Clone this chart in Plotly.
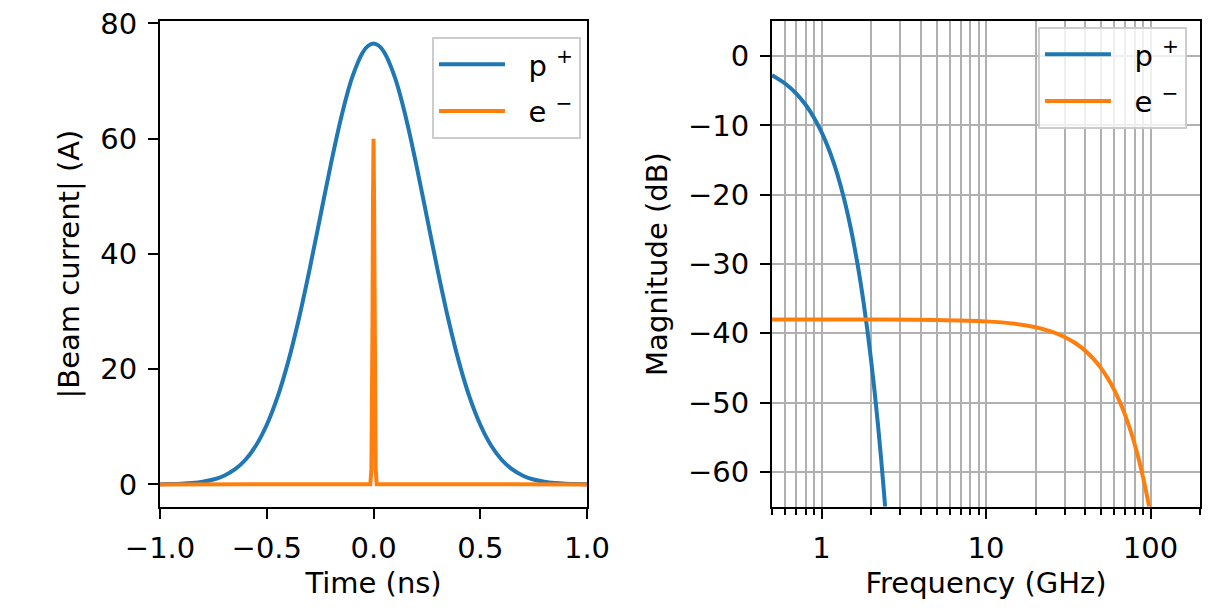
import plotly.graph_objects as go

# time domain (ns)
time_p = [-1.0, -0.95, -0.9, -0.85, -0.8, -0.75, -0.7, -0.65, -0.6, -0.55, -0.5, -0.45, -0.4, -0.35, -0.3, -0.25, -0.2, -0.15, -0.1, -0.05,
          -0.025, 0.0, 0.025, 0.05, 0.1, 0.15, 0.2, 0.25, 0.3, 0.35, 0.4, 0.45, 0.5, 0.55, 0.6, 0.65, 0.7, 0.75, 0.8, 0.85, 0.9, 0.95, 1.0]
current_p = [0.03, 0.06, 0.12, 0.24, 0.46, 0.85, 1.52, 2.6, 4.29, 6.8, 10.35, 15.14, 21.27, 28.71, 37.24, 46.4, 55.55, 63.9, 70.62, 74.98,
             76.12, 76.5, 76.12, 74.98, 70.62, 63.9, 55.55, 46.4, 37.24, 28.71, 21.27, 15.14, 10.35, 6.8, 4.29, 2.6, 1.52, 0.85, 0.46, 0.24,
             0.12, 0.06, 0.03]

time_e = [-1.0, -0.015, -0.01, -0.0075, -0.005, -0.0025, 0.0, 0.0025, 0.005, 0.0075, 0.01, 0.015, 1.0]
current_e = [0.0, 0.05, 2.6, 10.4, 27.5, 49.4, 60.0, 49.4, 27.5, 10.4, 2.6, 0.05, 0.0]

# frequency domain (GHz, dB)
freq_p = [0.5, 0.6, 0.7, 0.8, 0.9, 1.0, 1.1, 1.2, 1.3, 1.4, 1.5, 1.6, 1.7, 1.8, 1.9, 2.0, 2.1, 2.2, 2.3, 2.4, 2.5]
mag_p = [-2.74, -3.95, -5.37, -7.01, -8.88, -10.96, -13.26, -15.78, -18.52, -21.48, -24.66, -28.06, -31.67, -35.51, -39.57,
         -43.84, -48.33, -53.05, -57.98, -63.13, -68.5]

freq_e = [0.5, 1, 2, 5, 10, 15, 20, 25, 30, 35, 40, 45, 50, 55, 60, 65, 70, 75, 80, 85, 90, 95, 100]
mag_e = [-38.0, -38.0, -38.01, -38.07, -38.28, -38.63, -39.12, -39.76, -40.53, -41.44, -42.5, -43.69, -45.03, -46.5, -48.12,
         -49.87, -51.77, -53.81, -55.98, -58.3, -60.76, -63.36, -66.1]

left_ticks = [-1.0, -0.5, 0.0, 0.5, 1.0]
left_ticktext = ["\u22121.0", "\u22120.5", "0.0", "0.5", "1.0"]
current_ticks = [0, 20, 40, 60, 80]
mag_ticks = [0, -10, -20, -30, -40, -50, -60]
mag_ticktext = ["0", "\u221210", "\u221220", "\u221230", "\u221240", "\u221250", "\u221260"]
freq_ticks = [1, 10, 100]

BLUE = "#1f77b4"
ORANGE = "#ff7f0e"
FONT = dict(family="DejaVu Sans", size=29, color="black")

P_NAME = "\u00a0\u00a0p\u00a0<sup>+</sup>"
E_NAME = "\u00a0\u00a0e\u00a0<sup>\u2212</sup>"

fig = go.Figure()

fig.add_trace(go.Scatter(x=time_p, y=current_p, mode="lines", name=P_NAME, line=dict(color=BLUE, width=4, shape="spline"),
                         xaxis="x", yaxis="y", legend="legend", legendgroup="a"))
fig.add_trace(go.Scatter(x=time_e, y=current_e, mode="lines", name=E_NAME, line=dict(color=ORANGE, width=4),
                         xaxis="x", yaxis="y", legend="legend", legendgroup="b"))
fig.add_trace(go.Scatter(x=freq_p, y=mag_p, mode="lines", name=P_NAME, line=dict(color=BLUE, width=4, shape="spline"),
                         xaxis="x2", yaxis="y2", legend="legend2", legendgroup="c"))
fig.add_trace(go.Scatter(x=freq_e, y=mag_e, mode="lines", name=E_NAME, line=dict(color=ORANGE, width=4, shape="spline"),
                         xaxis="x2", yaxis="y2", legend="legend2", legendgroup="d"))

axis_style = dict(showline=True, linecolor="black", linewidth=2, mirror=True, ticks="outside", ticklen=10, tickwidth=2,
                  tickcolor="black", zeroline=False, automargin=False, tickfont=FONT, title_font=FONT, ticklabelstandoff=5,
                  ticklabeloverflow="allow")

legend_style = dict(bgcolor="rgba(255,255,255,0.8)", bordercolor="#cccccc", borderwidth=2, font=FONT,
                    traceorder="grouped", tracegroupgap=6, xanchor="right", yanchor="top", itemwidth=66)

# page body has an 8px margin, so the drawing area is 1203x592
fig.update_layout(
    plot_bgcolor="white",
    paper_bgcolor="white",
    margin=dict(l=0, r=0, t=0, b=0),
    font=FONT,
    xaxis=dict(domain=[0.1264, 0.4813], range=[-1, 1], tickvals=left_ticks, ticktext=left_ticktext, showgrid=False,
               title=dict(text="Time (ns)", standoff=8), anchor="y", **axis_style),
    yaxis=dict(domain=[0.1579, 0.9772], range=[-3.83, 80.33], tickvals=current_ticks, showgrid=False,
               title=dict(text="|Beam current| (A)", standoff=12), anchor="x", **axis_style),
    xaxis2=dict(domain=[0.6351, 0.9909], type="log", range=[-0.30103, 2.30103], tickvals=freq_ticks, ticktext=["1", "10", "100"],
                showgrid=True, gridcolor="#b0b0b0", gridwidth=1.6,
                minor=dict(dtick="D1", showgrid=True, gridcolor="#b0b0b0", gridwidth=1.6, ticks="outside", ticklen=6,
                           tickwidth=1.5, tickcolor="black"),
                title=dict(text="Frequency (GHz)", standoff=8), anchor="y2", **axis_style),
    yaxis2=dict(domain=[0.1579, 0.9772], range=[-65, 5], tickvals=mag_ticks, ticktext=mag_ticktext,
                showgrid=True, gridcolor="#b0b0b0", gridwidth=1.6,
                title=dict(text="Magnitude (dB)", standoff=12), anchor="x2", **axis_style),
    legend=dict(x=0.4763, y=0.951, **legend_style),
    legend2=dict(x=0.980, y=0.9679, **legend_style),
)

fig.write_html("out.html")
